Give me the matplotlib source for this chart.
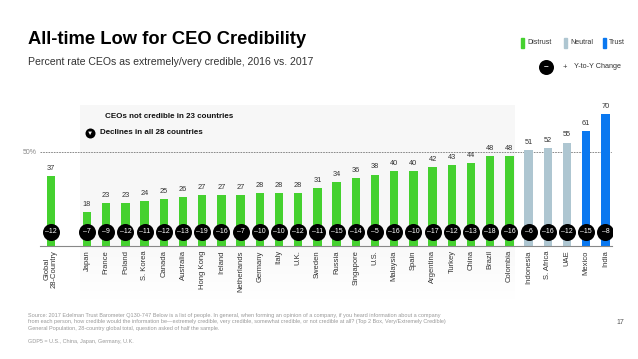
import matplotlib
matplotlib.use("Agg")
import matplotlib.pyplot as plt
import numpy as np
from matplotlib.patches import Rectangle
from matplotlib.lines import Line2D

plt.rcParams['font.family'] = ['Liberation Sans', 'DejaVu Sans']

countries = ["Global\n28-Country", "Japan", "France", "Poland", "S. Korea", "Canada", "Australia",
             "Hong Kong", "Ireland", "Netherlands", "Germany", "Italy", "U.K.", "Sweden", "Russia",
             "Singapore", "U.S.", "Malaysia", "Spain", "Argentina", "Turkey", "China", "Brazil",
             "Colombia", "Indonesia", "S. Africa", "UAE", "Mexico", "India"]
values_2017 = [37, 18, 23, 23, 24, 25, 26, 27, 27, 27, 28, 28, 28, 31, 34, 36, 38, 40, 40,
               42, 43, 44, 48, 48, 51, 52, 55, 61, 70]
yoy_change = [-12, -7, -9, -12, -11, -12, -13, -19, -16, -7, -10, -10, -12, -11, -15, -14, -5,
              -16, -10, -17, -12, -13, -18, -16, -6, -16, -12, -15, -8]
legend_labels = ["Distrust", "Neutral", "Trust"]

C_DISTRUST = "#45d12f"
C_NEUTRAL = "#aec6d1"
C_TRUST = "#0a78f0"

def color_for(v):
    if v < 50:
        return C_DISTRUST
    if v < 60:
        return C_NEUTRAL
    return C_TRUST

W, H = 638, 359
fig = plt.figure(figsize=(W / 100, H / 100), dpi=100)

def fx(px):
    return px / W

def fy(py):
    return 1 - py / H

def fig_dot(px, py, diam_px, color='black', z=3):
    fig.add_artist(Line2D([fx(px)], [fy(py)], marker='o', ms=diam_px * 0.72, color=color,
                          mec=color, mew=0, transform=fig.transFigure, zorder=z))

# shaded panel (figure coords) with vertical fade at bottom
grad = np.ones((100, 1, 4))
grad[:, 0, :3] = 0.972
alpha = np.ones(100)
alpha[65:] = np.linspace(1, 0, 35)
grad[:, 0, 3] = alpha
pax = fig.add_axes([fx(80), fy(300), fx(515) - fx(80), fy(105) - fy(300)])
pax.imshow(grad, aspect='auto', extent=[0, 1, 0, 1], origin='upper')
pax.set_axis_off()

# main axes
ax_left, ax_right = 40, 612
ax_bottom, ax_top = 246, 105
ax = fig.add_axes([fx(ax_left), fy(ax_bottom), fx(ax_right) - fx(ax_left), fy(ax_top) - fy(ax_bottom)])
ax.patch.set_alpha(0)
spacing = 19.2
gx0 = 51
positions = [0.0] + [(87 - gx0) / spacing + i for i in range(len(countries) - 1)]
ax.set_xlim((ax_left - gx0) / spacing, (ax_right - gx0) / spacing)
ymax = (ax_bottom - ax_top) / 1.88
ax.set_ylim(0, ymax)

colors = [color_for(v) for v in values_2017]
ax.bar(positions, values_2017, width=0.43, color=colors, zorder=2)

for x, v in zip(positions, values_2017):
    ax.text(x, v + 2.2, str(v), ha='center', va='bottom', fontsize=5.3, color='#333333')

circ_y = 7.5
ax.scatter(positions, [circ_y] * len(positions), s=150, color='black', zorder=3, linewidths=0)
for x, c in zip(positions, yoy_change):
    ax.text(x, circ_y, "\u2013" + str(abs(c)), ha='center', va='center', fontsize=5,
            color='white', zorder=4)

ax.axhline(50, color='#777777', lw=0.6, ls=(0, (2, 1.2)), zorder=1)
ax.text((ax_left - gx0) / spacing - 0.15, 50, "50%", ha='right', va='center', fontsize=5,
        color='#888888')

for s in ['top', 'right', 'left']:
    ax.spines[s].set_visible(False)
ax.spines['bottom'].set_color('#888888')
ax.spines['bottom'].set_linewidth(0.8)
ax.set_yticks([])
ax.set_xticks(positions)
ax.set_xticklabels(countries, rotation=90, fontsize=5.5, color='#333333', va='top', ha='center',
                   multialignment='center', linespacing=1.0)
ax.tick_params(axis='x', length=0, pad=3)

# title & subtitle
fig.text(fx(28), fy(40), "All-time Low for CEO Credibility", fontsize=13.2, fontweight='bold',
         ha='left', va='center', color='black')
fig.text(fx(28), fy(62), "Percent rate CEOs as extremely/very credible, 2016 vs. 2017", fontsize=7.6,
         ha='left', va='center', color='#333333')

# panel texts
fig.text(fx(105), fy(116), "CEOs not credible in 23 countries", fontsize=5.8, fontweight='bold',
         ha='left', va='center', color='#111111')
fig.text(fx(100), fy(133), "Declines in all 28 countries", fontsize=5.8, fontweight='bold',
         ha='left', va='center', color='#111111')
fig_dot(90, 133, 10)
fig.text(fx(90), fy(133.5), "\u25BC", fontsize=4.5, color='white', ha='center', va='center', zorder=5)

# legend
leg_x = [521, 564, 603]
for lx, lab, col in zip(leg_x, legend_labels, [C_DISTRUST, C_NEUTRAL, C_TRUST]):
    fig.patches.append(Rectangle((fx(lx), fy(48)), 3 / W, 10 / H, transform=fig.transFigure,
                                 color=col, figure=fig))
    fig.text(fx(lx + 6), fy(43), lab, fontsize=5, ha='left', va='center', color='#333333')
fig_dot(546, 67, 15)
fig.text(fx(546), fy(67), "\u2013", fontsize=6, color='white', ha='center', va='center',
         fontweight='bold', zorder=5)
fig.text(fx(565), fy(67), "+", fontsize=5.5, color='#333333', ha='center', va='center')
fig.text(fx(574), fy(67), "Y-to-Y Change", fontsize=5.2, color='#333333', ha='left', va='center')

# footer
foot = ("Source: 2017 Edelman Trust Barometer Q130-747 Below is a list of people. In general, when forming an opinion of a company, if you heard information about a company\n"
        "from each person, how credible would the information be\u2014extremely credible, very credible, somewhat credible, or not credible at all? (Top 2 Box, Very/Extremely Credible)\n"
        "General Population, 28-country global total, question asked of half the sample.")
fig.text(fx(28), fy(313), foot, fontsize=3.95, color='#999999', ha='left', va='top', linespacing=1.35)
fig.text(fx(28), fy(341), "GDP5 = U.S., China, Japan, Germany, U.K.", fontsize=3.95, color='#999999',
         ha='left', va='center')
fig.text(fx(620), fy(323), "17", fontsize=5, color='#555555', ha='center', va='center')

fig.savefig("out.png", dpi=100)
